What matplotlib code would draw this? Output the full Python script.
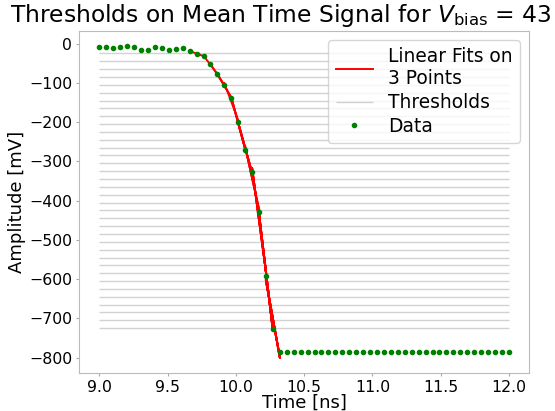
import numpy as np
import matplotlib
matplotlib.use("Agg")
import matplotlib.pyplot as plt

# sampled signal (time in ns, amplitude in mV)
time_ns = np.linspace(9.0, 12.0, 60)
amplitude = [-7.6, -8.4, -10.1, -9.1, -6.6, -9.1, -15.2, -15.2, -9.1, -10.9,
             -16.0, -12.7, -10.1, -18.5, -25.5, -31.5, -52.0, -78.5, -105.5, -138.0,
             -200.0, -270.0, -327.0, -430.0, -591.0, -727.0, -787.0] + [-787.0] * 33
amplitude = np.array(amplitude)

thresholds = [-25, -45, -65, -85, -105, -125, -145, -165, -185, -205, -225, -245,
              -265, -285, -305, -325, -345, -365, -385, -405, -425, -445, -465, -485,
              -505, -525, -545, -565, -585, -605, -625, -645, -665, -685, -705, -725]

fig = plt.figure(figsize=(5.55, 4.11), dpi=100)
ax = fig.add_axes([0.1423, 0.0925, 0.8114, 0.8328])

th_lines = ax.hlines(thresholds, time_ns[0], time_ns[-1], color="grey", alpha=0.35, lw=1)

fit_line = None
for th in thresholds:
    i = int(np.argmax(amplitude < th))
    tt = time_ns[i - 1:i + 2]
    aa = amplitude[i - 1:i + 2]
    p = np.polyfit(tt, aa, 1)
    fit_line, = ax.plot(tt, np.polyval(p, tt), color="red", lw=1.4)

dots, = ax.plot(time_ns, amplitude, "o", color="green", ms=3.0, ls="none")

# title is wider than the figure, starts near the left edge
ax.set_title(r"Thresholds on Mean Time Signal for $V_{\rm bias}$ = 43 V",
             fontsize=16.85, loc="left", x=-0.153)
ax.set_xlabel("Time [ns]", fontsize=13, labelpad=-1)
ax.set_ylabel("Amplitude [mV]", fontsize=13, labelpad=2)
ax.set_yticks(np.arange(-800, 1, 100))
ax.tick_params(labelsize=11.3, color="#aaaaaa", length=2.5, pad=2.5)
for s in ax.spines.values():
    s.set_color("#bbbbbb")

ax.legend([fit_line, th_lines, dots], ["Linear Fits on\n3 Points", "Thresholds", "Data"],
          loc="upper right", fontsize=13.4, labelspacing=0.25)

fig.savefig("out.png", dpi=100)
